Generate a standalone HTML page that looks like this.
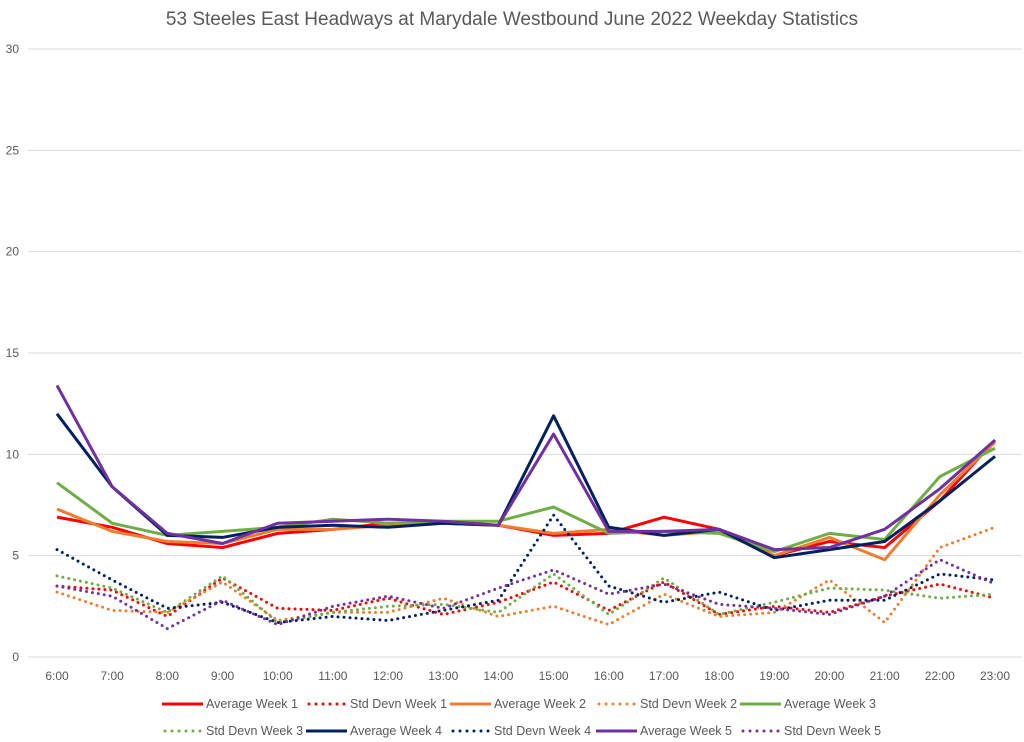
<!DOCTYPE html>
<html><head><meta charset="utf-8"><style>
body{margin:0;background:#fff;}
svg{display:block;font-family:"Liberation Sans",sans-serif;}
</style></head><body>
<svg id="chart" width="1024" height="742">
<text x="512" y="25" text-anchor="middle" font-size="19" fill="#595959">53 Steeles East Headways at Marydale Westbound June 2022 Weekday Statistics</text>
<g id="grid"></g><g id="series"></g><g id="legend"></g>
</svg>
<script>
const categories=["6:00","7:00","8:00","9:00","10:00","11:00","12:00","13:00","14:00","15:00","16:00","17:00","18:00","19:00","20:00","21:00","22:00","23:00"];
const yTicks=[0,5,10,15,20,25,30];
const avg1=[6.9,6.4,5.6,5.4,6.1,6.3,6.6,6.6,6.5,6.0,6.1,6.9,6.3,5.0,5.7,5.4,7.7,10.7];
const avg2=[7.3,6.2,5.7,5.6,6.3,6.3,6.5,6.6,6.5,6.1,6.3,6.0,6.2,5.0,5.9,4.8,8.0,10.6];
const avg3=[8.6,6.6,6.0,6.2,6.4,6.8,6.6,6.7,6.7,7.4,6.1,6.2,6.1,5.2,6.1,5.8,8.9,10.3];
const avg4=[12.0,8.4,6.0,5.9,6.4,6.5,6.4,6.6,6.5,11.9,6.4,6.0,6.3,4.9,5.3,5.7,7.7,9.9];
const avg5=[13.4,8.4,6.1,5.6,6.6,6.7,6.8,6.7,6.5,11.0,6.2,6.2,6.3,5.3,5.4,6.3,8.3,10.7];
const sd1=[3.5,3.3,2.0,3.9,2.4,2.3,2.9,2.1,2.7,3.7,2.3,3.7,2.1,2.5,2.2,3.0,3.6,2.9];
const sd2=[3.2,2.3,2.2,3.7,1.8,2.2,2.2,2.9,2.0,2.5,1.6,3.1,2.0,2.2,3.8,1.7,5.4,6.4];
const sd3=[4.0,3.4,2.2,4.0,1.7,2.2,2.5,2.6,2.2,4.1,2.1,3.9,2.1,2.7,3.4,3.3,2.9,3.1];
const sd4=[5.3,3.8,2.4,2.7,1.7,2.0,1.8,2.3,2.8,7.0,3.5,2.7,3.2,2.3,2.8,2.8,4.1,3.8];
const sd5=[3.5,3.0,1.4,2.8,1.6,2.5,3.0,2.4,3.4,4.3,3.1,3.6,2.6,2.4,2.1,3.0,4.8,3.6];
const NS="http://www.w3.org/2000/svg";
const X0=57,X1=995,Y0=657,Y1=49,YMAX=30;
const x=i=>X0+i*(X1-X0)/(categories.length-1);
const y=v=>Y0-v*(Y0-Y1)/YMAX;
function mk(tag,attrs,parent){const e=document.createElementNS(NS,tag);for(const k in attrs)e.setAttribute(k,attrs[k]);parent.appendChild(e);return e;}
const grid=document.getElementById('grid');
yTicks.forEach(t=>{
 const l=mk('line',{x1:28,x2:1022,y1:y(t),y2:y(t),stroke:'#d9d9d9','stroke-width':1},grid);
 
 
 const tx=mk('text',{x:19,y:y(t)+4,'text-anchor':'end','font-size':12,fill:'#595959'},grid);
 tx.textContent=t;
 
 
});
categories.forEach((c,i)=>{
 const tx=mk('text',{x:x(i),y:680,'text-anchor':'middle','font-size':12,fill:'#595959'},grid);
 tx.textContent=c;
 
 
});
const series=[
 {n:"Average Week 1",d:avg1,c:"#ff0000",dot:false},
 {n:"Std Devn Week 1",d:sd1,c:"#ff0000",dot:true},
 {n:"Average Week 2",d:avg2,c:"#ed7d31",dot:false},
 {n:"Std Devn Week 2",d:sd2,c:"#ed7d31",dot:true},
 {n:"Average Week 3",d:avg3,c:"#70ad47",dot:false},
 {n:"Std Devn Week 3",d:sd3,c:"#70ad47",dot:true},
 {n:"Average Week 4",d:avg4,c:"#002060",dot:false},
 {n:"Std Devn Week 4",d:sd4,c:"#002060",dot:true},
 {n:"Average Week 5",d:avg5,c:"#7030a0",dot:false},
 {n:"Std Devn Week 5",d:sd5,c:"#7030a0",dot:true}
];
const sg=document.getElementById('series');
series.forEach(s=>{
 const p=mk('polyline',{points:s.d.map((v,i)=>x(i)+','+y(v)).join(' '),fill:'none',stroke:s.c,'stroke-width':3,'stroke-linejoin':'round'},sg);
 if(s.dot){p.setAttribute('stroke-dasharray','0 6');p.setAttribute('stroke-linecap','round');}
 
 
});
const lg=document.getElementById('legend');
const lx=[162,306,450,596,740];
series.forEach((s,i)=>{
 const r=Math.floor(i/5), c=i%5, yy=r?735:708, xx=lx[c];
 const g=mk('g',{},lg);
 
 
 const l=mk('line',{x1:xx,x2:xx+41,y1:yy-4,y2:yy-4,stroke:s.c,'stroke-width':3},g);
 if(s.dot){l.setAttribute('stroke-dasharray','0 7');l.setAttribute('stroke-linecap','round');l.setAttribute('x1',xx+3);}
 const t=mk('text',{x:xx+44,y:yy,'font-size':12.5,fill:'#595959'},g);
 t.textContent=s.n;
});
</script>
</body></html>
